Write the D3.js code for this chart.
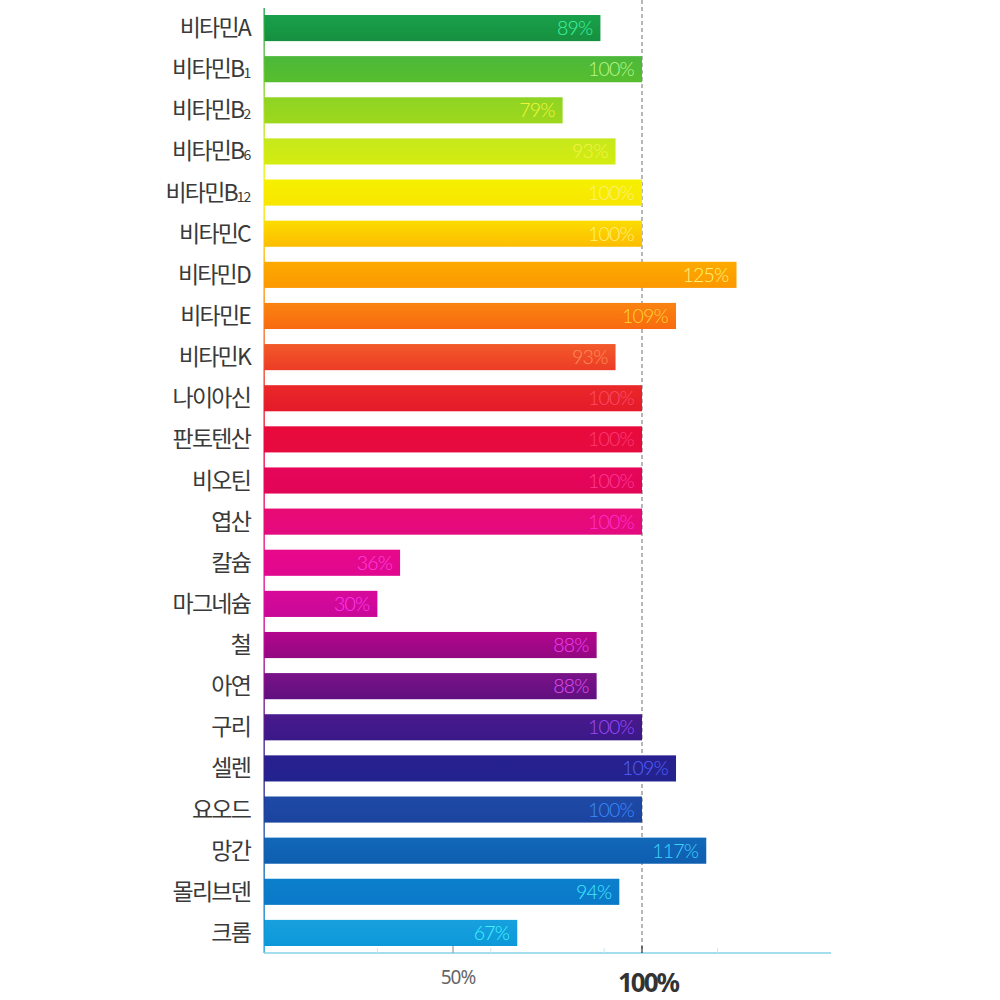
<!DOCTYPE html>
<html><head><meta charset="utf-8">
<script src="https://cdn.jsdelivr.net/npm/d3@7"></script>
<style>html,body{margin:0;padding:0;background:#fff;}svg{display:block;}</style>
</head><body>
<svg id="c" width="1000" height="1000"></svg>
<script>
// ---- data ----
const categories = ["비타민A","비타민B1","비타민B2","비타민B6","비타민B12","비타민C","비타민D","비타민E","비타민K","나이아신","판토텐산","비오틴","엽산","칼슘","마그네슘","철","아연","구리","셀렌","요오드","망간","몰리브덴","크롬"];
const subscripts = ["","1","2","6","12","","","","","","","","","","","","","","","","","",""];
const values = [89,100,79,93,100,100,125,109,93,100,100,100,100,36,30,88,88,100,109,100,117,94,67];
const minorTicks = [30,60,90,120];
const tickLabels = [{v:50,t:"50%"},{v:100,t:"100%"}];

// ---- palette (style) ----
const barTop = ["#1aa04a","#4cb83a","#8ed424","#c6e81c","#f6f000","#fcdc00","#fdaa00","#fa8410","#f25a2a","#ea2828","#e80a3a","#e6055a","#e80a74","#e8088a","#d80a9a","#b2068e","#7a1288","#4a1a8c","#282090","#1e4aa6","#1268b8","#0c80cc","#18a0de"];
const barBot = ["#159040","#56be2e","#9ed81c","#d4ec10","#f8e600","#fcbc00","#fc9800","#f86a10","#ec3c26","#e41a2a","#e60a40","#e20556","#e40a80","#e00890","#c80898","#920880","#601080","#3a1888","#22238e","#1a44a0","#0e5eb0","#0a78c8","#0c98d8"];
const labelCol = ["#3ff5a0","#b9f78a","#f2f536","#f4f446","#fbf27a","#fff07a","#fff27a","#ffd232","#ff8c5a","#ff4a6a","#ff3a78","#ff3a9a","#ff30d0","#ff40e0","#ff3af0","#f040f0","#e050f0","#9a4aff","#5060ff","#3a8aff","#40d0ff","#40e8ff","#40f4ff"];

const svg = d3.select("#c");
const x = d3.scaleLinear().domain([0,150]).range([264,831]);
const y = d3.scaleBand().domain(categories).range([15,946]).paddingInner(0.365).paddingOuter(0);

const defs = svg.append("defs");
categories.forEach((c,i)=>{
  const g = defs.append("linearGradient").attr("id","g"+i).attr("x1",0).attr("y1",0).attr("x2",0).attr("y2",1);
  g.append("stop").attr("offset","0%").attr("stop-color",barTop[i]);
  g.append("stop").attr("offset","100%").attr("stop-color",barBot[i]);
});
const ag = defs.append("linearGradient").attr("id","axisG").attr("gradientUnits","userSpaceOnUse")
  .attr("x1",0).attr("y1",8).attr("x2",0).attr("y2",953);
categories.forEach((c,i)=>{
  ag.append("stop").attr("offset",(i/(categories.length-1)*100)+"%").attr("stop-color",barTop[i]);
});

// dashed 100% line
svg.append("line").attr("x1",x(100)).attr("x2",x(100)).attr("y1",0).attr("y2",953)
  .attr("stroke","#888").attr("stroke-width",1.2).attr("stroke-dasharray","4,3");

// bars
svg.selectAll("rect.bar").data(values).join("rect").attr("class","bar")
  .attr("x",x(0)).attr("y",(d,i)=>y(categories[i]))
  .attr("width",d=>x(d)-x(0)).attr("height",y.bandwidth())
  .attr("fill",(d,i)=>`url(#g${i})`);

// value labels
svg.selectAll("text.val").data(values).join("text").attr("class","val")
  .attr("x",d=>x(d)-8).attr("y",(d,i)=>y(categories[i])+y.bandwidth()/2+7)
  .attr("text-anchor","end").attr("font-family","Lato, 'DejaVu Sans', sans-serif")
  .attr("font-weight",300).attr("font-size",19.5).attr("letter-spacing",-0.8)
  .attr("fill",(d,i)=>labelCol[i]).text(d=>d+"%");

// left axis line
svg.append("rect").attr("x",263.5).attr("y",8).attr("width",1.3).attr("height",945).attr("fill","url(#axisG)");

// bottom axis
svg.append("line").attr("x1",x(0)).attr("x2",x(150)).attr("y1",953).attr("y2",953)
  .attr("stroke","#86d2ea").attr("stroke-width",1.6);
svg.selectAll("line.mt").data(minorTicks).join("line").attr("class","mt")
  .attr("x1",d=>x(d)).attr("x2",d=>x(d)).attr("y1",948).attr("y2",953)
  .attr("stroke","#cfe6ee").attr("stroke-width",1);
svg.selectAll("line.mj").data(tickLabels).join("line").attr("class","mj")
  .attr("x1",d=>x(d.v)).attr("x2",d=>x(d.v)).attr("y1",946).attr("y2",953)
  .attr("stroke",d=>d.v===100?"#333":"#999").attr("stroke-width",1.2);
svg.selectAll("text.tl").data(tickLabels).join("text").attr("class","tl")
  .attr("x",d=>x(d.v)+(d.v===100?6:5)).attr("y",d=>d.v===100?992:984)
  .attr("text-anchor","middle")
  .attr("font-family","'Noto Sans', 'DejaVu Sans', sans-serif")
  .attr("font-size",d=>d.v===100?26:19)
  .attr("font-weight",d=>d.v===100?700:400)
  .attr("letter-spacing",d=>d.v===100?-2:-1)
  .attr("fill",d=>d.v===100?"#333":"#666").text(d=>d.t);

// category labels
const cl = svg.selectAll("text.cat").data(categories).join("text").attr("class","cat")
  .attr("x",250).attr("y",(d,i)=>y(d)+y.bandwidth()/2+8)
  .attr("text-anchor","end").attr("font-family","'Noto Sans CJK KR', sans-serif")
  .attr("font-size",23).attr("letter-spacing",-1.8).attr("fill","#3a3a3a");
cl.each(function(d,i){
  const t = d3.select(this);
  const s = subscripts[i];
  const base = s ? d.slice(0, d.length - s.length) : d;
  t.append("tspan").text(base);
  if(s) t.append("tspan").attr("font-size",14).attr("dy",1).attr("letter-spacing",-1.2).text(s);
});
</script>
</body></html>
